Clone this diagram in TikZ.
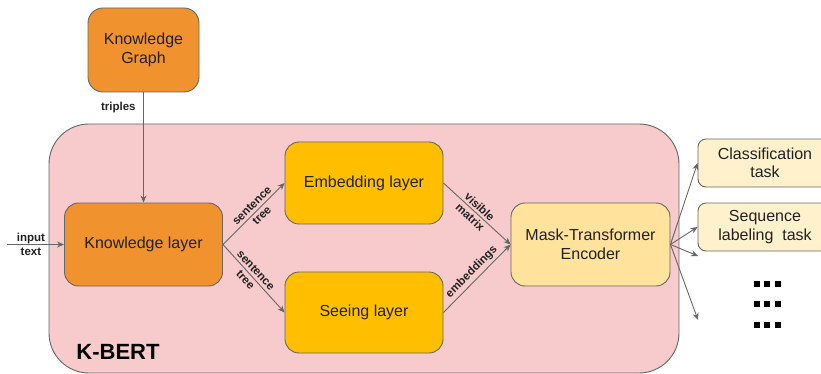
\documentclass[tikz,border=0pt]{standalone}
\usepackage{fontspec}
\setmainfont{Liberation Sans}
\usetikzlibrary{arrows.meta}
\definecolor{kgorange}{HTML}{F0922E}
\definecolor{layeryellow}{HTML}{FFBF00}
\definecolor{encyellow}{HTML}{FFE29B}
\definecolor{taskcream}{HTML}{FFF1CC}
\definecolor{kbertpink}{HTML}{F7CBCB}
\definecolor{edgegray}{HTML}{666666}
\definecolor{txtdark}{HTML}{222222}
\begin{document}
\begin{tikzpicture}[x=1pt,y=-1pt,
  box/.style={draw=edgegray, line width=0.9pt, rounded corners=14pt, align=center,
    inner sep=0pt, text=txtdark, font=\fontsize{16}{19}\selectfont},
  conn/.style={draw=edgegray, line width=0.9pt, -{Stealth[length=7pt,width=6pt]}},
  lbl/.style={font=\bfseries\fontsize{11.5}{14}\selectfont, inner sep=1.5pt, text=txtdark, align=center}]
\clip (0,0) rectangle (821,374);
% K-BERT container
\node[draw=edgegray, line width=0.9pt, fill=kbertpink, rounded corners=40pt,
  minimum width=630pt, minimum height=249pt, inner sep=0pt] (kbert) at (364,248.5) {};
\node[font=\bfseries\fontsize{22}{24}\selectfont, text=black, inner sep=0pt] (kbertlbl) at (118,352) {K-BERT};
% boxes
\node[box, fill=kgorange, minimum width=111pt, minimum height=84pt, rounded corners=15pt] (kg) at (143.5,50) {Knowledge\\Graph};
\node[box, fill=kgorange, minimum width=158pt, minimum height=83pt] (kl) at (143.5,244.5) {Knowledge layer};
\node[box, fill=layeryellow, minimum width=158pt, minimum height=82pt] (emb) at (364,183) {Embedding layer};
\node[box, fill=layeryellow, minimum width=158pt, minimum height=81pt] (see) at (364,312.5) {Seeing layer};
\node[box, fill=encyellow, minimum width=159pt, minimum height=83pt] (enc) at (590.5,244.5) {Mask-Transformer\\Encoder};
\node[box, fill=taskcream, minimum width=134pt, minimum height=48pt, rounded corners=8pt, font=\fontsize{16}{18.3}\selectfont] (cls) at (765,163) {Classification\\task};
\node[box, fill=taskcream, minimum width=134pt, minimum height=48pt, rounded corners=8pt, font=\fontsize{16}{18.3}\selectfont] (seq) at (765,227) {Sequence\\labeling\ \ task};
% connectors
\coordinate (in) at (7,244.5);
\coordinate (o3) at (698,256);
\coordinate (o4) at (698,320);
\draw[conn] (kg) -- node[lbl, pos=0.14, left, xshift=-6pt] {triples} (kl);
\draw[conn] (in) -- node[lbl, pos=0.42] {input\\text} (kl);
\draw[conn] (kl.east) -- node[lbl, pos=0.55, sloped] {sentence\\tree} (emb.west);
\draw[conn] (kl.east) -- node[lbl, pos=0.45, sloped] {sentence\\tree} (see.west);
\draw[conn] (emb.east) -- node[lbl, pos=0.47, sloped] {visible\\matrix} (enc.west);
\draw[conn] (see.east) -- node[lbl, pos=0.51, sloped, above, yshift=1pt] {embeddings} (enc.west);
\draw[conn] (enc.east) -- (cls.west);
\draw[conn] (enc.east) -- (seq.west);
\draw[conn] (enc.east) -- (o3);
\draw[conn] (enc.east) -- (o4);
% ellipsis squares
\foreach \yy in {283.5,304,325}{
  \foreach \xx in {756.5,767,778}{
    \fill[black] (\xx-3,\yy-3) rectangle (\xx+3,\yy+3);
  }
}
\end{tikzpicture}
\end{document}
